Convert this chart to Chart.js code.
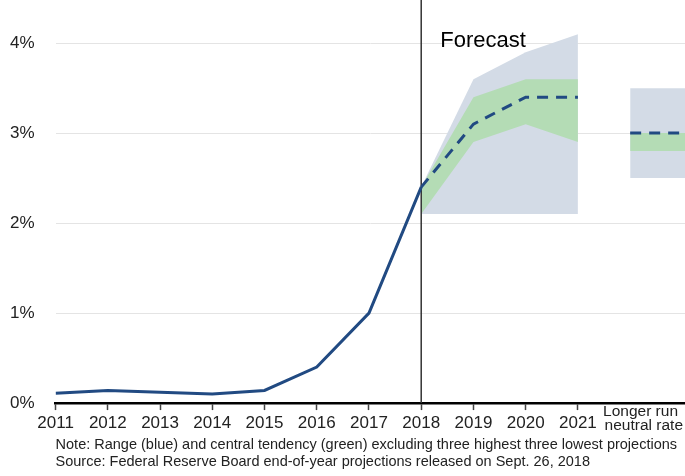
<!DOCTYPE html>
<html>
<head>
<meta charset="utf-8">
<script src="https://cdn.jsdelivr.net/npm/chart.js@4/dist/chart.umd.min.js"></script>
<style>
  html, body { margin: 0; padding: 0; background: #fff; }
  #wrap { width: 685px; height: 476px; }
</style>
</head>
<body>
<div id="wrap"><canvas id="myChart"></canvas></div>
<script>
// Our labels along the x-axis (position = index)
var years = ['2011','2012','2013','2014','2015','2016','2017','2018','2019','2020','2021'];
var yTicks = [0, 1, 2, 3, 4];

// actual rate
var actual = [0.11, 0.14, 0.12, 0.10, 0.14, 0.40, 1.00, 2.40];
// median projection 2018-2021
var medianYears = [7, 8, 9, 10];
var median = [2.4, 3.1, 3.4, 3.4];
// range (blue) and central tendency (green)
var rangeHigh = [2.4, 3.6, 3.9, 4.1];
var rangeLow = [2.1, 2.1, 2.1, 2.1];
var ctHigh = [2.4, 3.4, 3.6, 3.6];
var ctLow = [2.1, 2.9, 3.1, 2.9];
// longer run neutral rate
var longRunX = [11, 12.05];
var longRunMedian = 3.0;
var longRunRange = [2.5, 3.5];
var longRunCt = [2.8, 3.0];

var forecastYear = 7;
var yMax = 4.47;

var FONT = 'Liberation Sans, Arial, sans-serif';
var LINE = '#214a82';
var BLUE = '#d3dbe6';
var GREEN = '#b4dcb5';

function pts(xs, ys) { return xs.map(function (x, i) { return { x: x, y: ys[i] }; }); }
function flat(xs, v) { return xs.map(function (x) { return { x: x, y: v }; }); }

var base = { pointRadius: 0, borderWidth: 0, tension: 0 };

var longRunLabel = {
  id: 'longRunLabel',
  afterDraw: function (chart) {
    var ctx = chart.ctx, area = chart.chartArea;
    ctx.save();
    ctx.font = '15.5px ' + FONT;
    ctx.fillStyle = '#222';
    ctx.textAlign = 'right';
    ctx.textBaseline = 'middle';
    ctx.fillText('Longer run', area.right - 7, 412);
    ctx.fillText('neutral rate', area.right - 2, 426);
    ctx.font = '22px ' + FONT;
    ctx.textAlign = 'left';
    ctx.textBaseline = 'alphabetic';
    ctx.fillStyle = '#000';
    ctx.fillText('Forecast', chart.scales.x.getPixelForValue(forecastYear) + 19, 47);
    ctx.restore();
  }
};

var ctx = document.getElementById('myChart');
var myChart = new Chart(ctx, {
  type: 'line',
  data: {
    datasets: [
      Object.assign({}, base, { data: pts(medianYears, rangeHigh), fill: '+1', backgroundColor: BLUE, order: 4 }),
      Object.assign({}, base, { data: pts(medianYears, rangeLow), fill: false, order: 4 }),
      Object.assign({}, base, { data: pts(medianYears, ctHigh), fill: '+1', backgroundColor: GREEN, order: 3 }),
      Object.assign({}, base, { data: pts(medianYears, ctLow), fill: false, order: 3 }),
      Object.assign({}, base, { data: flat(longRunX, longRunRange[1]), fill: '+1', backgroundColor: BLUE, order: 4 }),
      Object.assign({}, base, { data: flat(longRunX, longRunRange[0]), fill: false, order: 4 }),
      Object.assign({}, base, { data: flat(longRunX, longRunCt[1]), fill: '+1', backgroundColor: GREEN, order: 3 }),
      Object.assign({}, base, { data: flat(longRunX, longRunCt[0]), fill: false, order: 3 }),
      { data: [{ x: forecastYear, y: 0 }, { x: forecastYear, y: yMax + 0.1 }], clip: false,
        borderColor: '#333', borderWidth: 1.5, pointRadius: 0, fill: false, order: 2 },
      { data: actual.map(function (v, i) { return { x: i, y: v }; }),
        borderColor: LINE, borderWidth: 3, pointRadius: 0, fill: false, order: 0 },
      { data: pts(medianYears, median),
        borderColor: LINE, borderWidth: 3, borderDash: [11, 8], pointRadius: 0, fill: false, order: 0 },
      { data: flat(longRunX, longRunMedian),
        borderColor: LINE, borderWidth: 3, borderDash: [11, 8], pointRadius: 0, fill: false, order: 0 }
    ]
  },
  options: {
    responsive: true,
    maintainAspectRatio: false,
    animation: false,
    layout: { padding: { left: 10, right: 0, top: 0, bottom: 0 } },
    plugins: {
      legend: { display: false },
      tooltip: { enabled: false },
      title: {
        display: true,
        position: 'bottom',
        align: 'start',
        fullSize: false,
        text: ['Note: Range (blue) and central tendency (green) excluding three highest three lowest projections',
               'Source: Federal Reserve Board end-of-year projections released on Sept. 26, 2018'],
        font: { family: FONT, size: 14.5, weight: 'normal', lineHeight: 1.17 },
        color: '#222',
        padding: { top: 0, bottom: 6 }
      }
    },
    scales: {
      x: {
        type: 'linear',
        min: 0,
        max: longRunX[1],
        afterBuildTicks: function (scale) {
          scale.ticks = years.map(function (y, i) { return { value: i }; });
        },
        ticks: {
          autoSkip: false,
          maxRotation: 0,
          padding: 4.5,
          color: '#222',
          font: { family: FONT, size: 17, lineHeight: 1 },
          callback: function (v) { return years[v] !== undefined ? years[v] : ''; }
        },
        grid: { drawOnChartArea: false, tickLength: 7, tickColor: '#444', tickWidth: 1.5 },
        border: { display: true, color: '#000', width: 2.5 }
      },
      y: {
        min: 0,
        max: yMax,
        afterBuildTicks: function (scale) {
          scale.ticks = yTicks.map(function (v) { return { value: v }; });
        },
        ticks: {
          padding: 0,
          color: '#222',
          font: { family: FONT, size: 17, lineHeight: 0.1 },
          callback: function (v) { return v + '%'; }
        },
        grid: { color: '#e4e4e4', lineWidth: 1, drawTicks: true, tickLength: 21, tickColor: 'rgba(0,0,0,0)' },
        border: { display: false }
      }
    }
  },
  plugins: [longRunLabel]
});
</script>
</body>
</html>
